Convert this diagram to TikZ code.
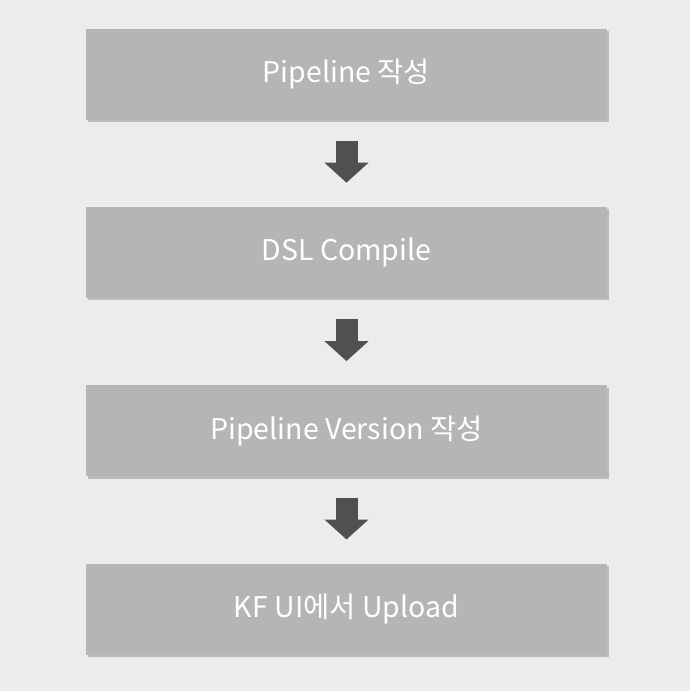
\documentclass[tikz,border=0pt]{standalone}
\usepackage{fontspec}
\setmainfont{Noto Sans CJK KR}
\usetikzlibrary{arrows.meta, positioning, shadows}

\definecolor{pagebg}{HTML}{ECECEC}
\definecolor{stepgray}{HTML}{B5B4B6}
\definecolor{arrowgray}{HTML}{505050}

\begin{document}
\begin{tikzpicture}[
    stepbox/.style={
        rectangle, fill=stepgray, text=white,
        minimum width=521pt, minimum height=91pt,
        font=\fontsize{28.5}{32}\selectfont,
        drop shadow={shadow xshift=1.5pt, shadow yshift=-2.5pt,
                     opacity=0.3, fill=black!70}
    },
    fatarrow/.style={
        arrowgray, line width=22pt,
        -{Triangle[width=43pt, length=20pt]},
        shorten <=21pt, shorten >=24pt
    }
]

%% ─── PAGE ────────────────────────────────────────────────────
\fill[pagebg] (0,0) rectangle (690pt,-691pt);
\useasboundingbox (0,0) rectangle (690pt,-691pt);

%% ─── STEPS ───────────────────────────────────────────────────
\node[stepbox] (write) at (346.5pt,-74pt) {Pipeline 작성};
\node[stepbox, below=87pt of write] (compile) {DSL Compile};
\node[stepbox, below=87pt of compile] (version) {Pipeline Version 작성};
\node[stepbox, below=87pt of version] (upload) {KF UI에서 Upload};

%% ─── ARROWS ──────────────────────────────────────────────────
\draw[fatarrow] (write.south)   -- (compile.north);
\draw[fatarrow] (compile.south) -- (version.north);
\draw[fatarrow] (version.south) -- (upload.north);

\end{tikzpicture}
\end{document}
